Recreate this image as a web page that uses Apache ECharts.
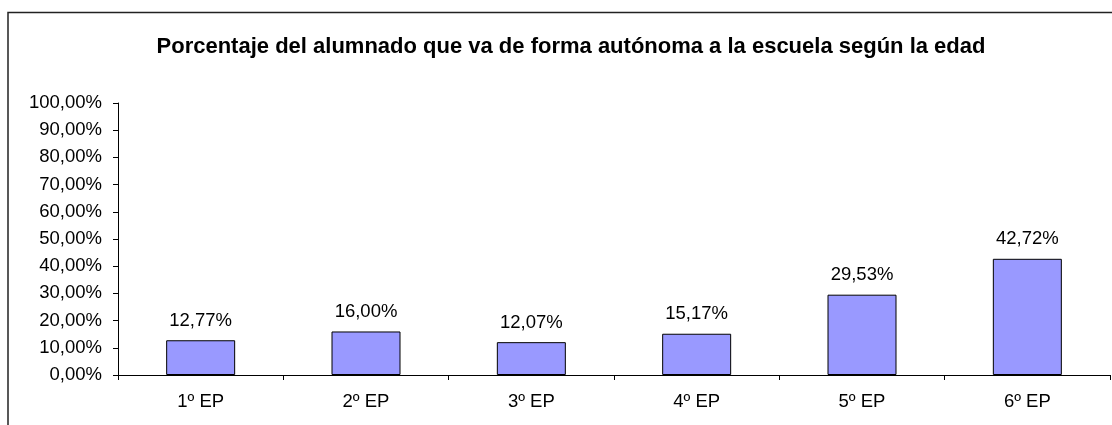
<!DOCTYPE html>
<html>
<head>
<meta charset="utf-8">
<script src="https://cdn.jsdelivr.net/npm/echarts@6/dist/echarts.min.js"></script>
<style>
  html, body { margin: 0; padding: 0; background: #fff; }
  #chart { width: 1112px; height: 425px; }
</style>
</head>
<body>
<div id="chart"></div>
<script>
// datos
var cursos = ["1º EP", "2º EP", "3º EP", "4º EP", "5º EP", "6º EP"];
var porcentajes = [12.77, 16.00, 12.07, 15.17, 29.53, 42.72];
var titulo = "Porcentaje del alumnado que va de forma autónoma a la escuela según la edad";

var fontFam = "'Liberation Sans', Arial, sans-serif";

function fmt(v) {
    return v.toFixed(2).replace(".", ",") + "%";
}

var mychart = echarts.init(document.getElementById("chart"));
var option = {
    animation: false,
    textStyle: { fontFamily: fontFam },
    title: {
        text: titulo,
        left: 566,
        top: 31,
        textAlign: "center",
        textStyle: { fontSize: 22, fontWeight: "bold", color: "#000", fontFamily: fontFam }
    },
    graphic: [
        {
            type: "polyline",
            shape: { points: [[8, 425], [8, 12.5], [1112, 12.5]] },
            style: { stroke: "#222", lineWidth: 1.5, fill: null }
        }
    ],
    grid: { left: 118, right: 2, top: 103, bottom: 50 },
    xAxis: {
        type: "category",
        data: cursos,
        axisLine: { lineStyle: { color: "#000", width: 1 } },
        axisTick: { show: true, length: 5, lineStyle: { color: "#000" } },
        axisLabel: { color: "#000", fontSize: 18.5, margin: 17, fontFamily: fontFam }
    },
    yAxis: {
        type: "value",
        min: 0,
        max: 100,
        interval: 10,
        splitLine: { show: false },
        axisLine: { show: true, lineStyle: { color: "#000", width: 1 } },
        axisTick: { show: true, length: 5, lineStyle: { color: "#000" } },
        axisLabel: {
            color: "#000",
            fontSize: 18.5,
            margin: 16,
            fontFamily: fontFam,
            formatter: function (v) { return fmt(v); }
        }
    },
    series: [
        {
            type: "bar",
            data: porcentajes,
            barWidth: 69,
            itemStyle: { color: "#9999FF", borderColor: "#000", borderWidth: 1 },
            label: {
                show: true,
                position: "top",
                distance: 10,
                color: "#000",
                fontSize: 18.5,
                fontFamily: fontFam,
                formatter: function (p) { return fmt(p.value); }
            }
        }
    ]
};
option && mychart.setOption(option);
</script>
</body>
</html>
